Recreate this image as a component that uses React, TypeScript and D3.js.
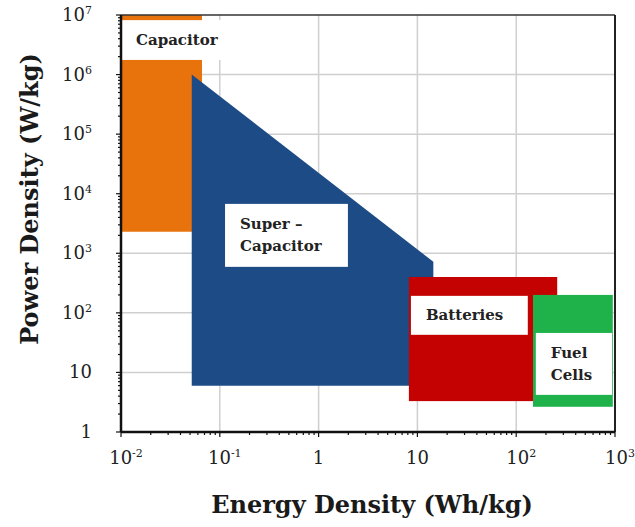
import { useEffect, useRef } from 'react';
import * as d3 from 'd3';

// axis decades (log scale)
const energyDecades = [1e-2, 1e-1, 1, 10, 100, 1000];
const powerDecades = [1, 10, 100, 1e3, 1e4, 1e5, 1e6, 1e7];
const energyTickLabels = [['10', '-2'], ['10', '-1'], ['1', ''], ['10', ''], ['10', '2'], ['10', '3']];
const powerTickLabels = [['1', ''], ['10', ''], ['10', '2'], ['10', '3'], ['10', '4'], ['10', '5'], ['10', '6'], ['10', '7']];

// regions: energy (Wh/kg) x power (W/kg)
const capacitorRange = { x: [0.01, 0.066], y: [2300, 1e7] };
const superCapPolygon = [[0.052, 1e6], [14.5, 720], [14.5, 6], [0.052, 6]];
const batteriesRange = { x: [8.2, 260], y: [3.3, 400] };
const fuelCellsRange = { x: [148, 950], y: [2.65, 200] };

// label boxes (in data units) and their text lines
const labelBoxes = [
  { lines: ['Capacitor'], x: [0.01, 0.18], y: [1.76e6, 8.2e6] },
  { lines: ['Super –', 'Capacitor'], x: [0.113, 1.98], y: [592, 6750] },
  { lines: ['Batteries'], x: [8.6, 131], y: [42.8, 193] },
  { lines: ['Fuel', 'Cells'], x: [158, 933], y: [4.2, 46] },
];

const width = 635;
const height = 527;
const margin = { top: 15, right: 20, bottom: 95, left: 121 };
const serif = '"DejaVu Serif", serif';

const App = () => {
  const svgRef = useRef(null);

  useEffect(() => {
    const svg = d3.select(svgRef.current);
    svg.selectAll('*').remove();

    const innerWidth = width - margin.left - margin.right;
    const innerHeight = height - margin.top - margin.bottom;

    const x = d3.scaleLog().domain([1e-2, 1e3]).range([0, innerWidth]);
    const y = d3.scaleLog().domain([1, 1e7]).range([innerHeight, 0]);

    svg.append('rect').attr('width', width).attr('height', height).attr('fill', '#fff');

    const g = svg.append('g').attr('transform', `translate(${margin.left},${margin.top})`);

    // grid
    g.selectAll('.vgrid')
      .data(energyDecades.slice(1, -1))
      .enter()
      .append('line')
      .attr('x1', d => x(d)).attr('x2', d => x(d))
      .attr('y1', 0).attr('y2', innerHeight)
      .attr('stroke', '#cfcfcf').attr('stroke-width', 1.5);

    g.selectAll('.hgrid')
      .data(powerDecades.slice(1, -1))
      .enter()
      .append('line')
      .attr('x1', 0).attr('x2', innerWidth)
      .attr('y1', d => y(d)).attr('y2', d => y(d))
      .attr('stroke', '#cfcfcf').attr('stroke-width', 1.5);

    const rect = (r, color) =>
      g.append('rect')
        .attr('x', x(r.x[0]))
        .attr('y', y(r.y[1]))
        .attr('width', x(r.x[1]) - x(r.x[0]))
        .attr('height', y(r.y[0]) - y(r.y[1]))
        .attr('fill', color);

    rect(capacitorRange, '#e8720c');

    const line = d3.line().x(d => x(d[0])).y(d => y(d[1]));
    g.append('path')
      .attr('d', line(superCapPolygon) + 'Z')
      .attr('fill', '#1d4b86');

    rect(batteriesRange, '#c40202');
    rect(fuelCellsRange, '#1fb24b');

    // label boxes
    labelBoxes.forEach(b => {
      const bx = x(b.x[0]);
      const by = y(b.y[1]);
      const bw = x(b.x[1]) - bx;
      const bh = y(b.y[0]) - by;
      g.append('rect')
        .attr('x', bx).attr('y', by)
        .attr('width', bw).attr('height', bh)
        .attr('fill', '#fff');
      const lh = 22;
      const startY = by + bh / 2 - ((b.lines.length - 1) * lh) / 2 + 5;
      b.lines.forEach((t, i) => {
        g.append('text')
          .attr('x', bx + 15)
          .attr('y', startY + i * lh)
          .attr('font-family', serif)
          .attr('font-weight', 'bold')
          .attr('font-size', 15)
          .attr('fill', '#222')
          .text(t);
      });
    });

    // frame
    g.append('line').attr('x1', 0).attr('x2', innerWidth).attr('y1', 0).attr('y2', 0)
      .attr('stroke', '#333').attr('stroke-width', 1.5);
    g.append('line').attr('x1', innerWidth).attr('x2', innerWidth).attr('y1', 0).attr('y2', innerHeight)
      .attr('stroke', '#222').attr('stroke-width', 2);
    g.append('line').attr('x1', 0).attr('x2', 0).attr('y1', 0).attr('y2', innerHeight)
      .attr('stroke', '#111').attr('stroke-width', 2.5);
    g.append('line').attr('x1', 0).attr('x2', innerWidth).attr('y1', innerHeight).attr('y2', innerHeight)
      .attr('stroke', '#111').attr('stroke-width', 2.5);

    // ticks (major + minor)
    const minorX = energyDecades.slice(0, -1).flatMap(d => d3.range(2, 10).map(k => d * k));
    const minorY = powerDecades.slice(0, -1).flatMap(d => d3.range(2, 10).map(k => d * k));

    g.selectAll('.xtick')
      .data([...energyDecades.map(v => ({ v, len: 5 })), ...minorX.map(v => ({ v, len: 3 }))])
      .enter()
      .append('line')
      .attr('x1', d => x(d.v)).attr('x2', d => x(d.v))
      .attr('y1', innerHeight).attr('y2', d => innerHeight + d.len)
      .attr('stroke', '#111').attr('stroke-width', 1.2);

    g.selectAll('.ytick')
      .data([...powerDecades.map(v => ({ v, len: 5 })), ...minorY.map(v => ({ v, len: 3 }))])
      .enter()
      .append('line')
      .attr('x1', d => -d.len).attr('x2', 0)
      .attr('y1', d => y(d.v)).attr('y2', d => y(d.v))
      .attr('stroke', '#111').attr('stroke-width', 1.2);

    // tick labels
    energyDecades.forEach((d, i) => {
      const [base, sup] = energyTickLabels[i];
      const t = g.append('text')
        .attr('x', x(d) + (sup ? 5 : 0))
        .attr('y', innerHeight + 32)
        .attr('text-anchor', 'middle')
        .attr('font-family', serif)
        .attr('font-size', 18)
        .attr('fill', '#222');
      t.append('tspan').text(base);
      if (sup) t.append('tspan').attr('font-size', 11).attr('dy', -7).text(sup);
    });

    powerDecades.forEach((d, i) => {
      const [base, sup] = powerTickLabels[i];
      const t = g.append('text')
        .attr('x', -29)
        .attr('y', y(d) + 6)
        .attr('text-anchor', 'end')
        .attr('font-family', serif)
        .attr('font-size', 18)
        .attr('fill', '#222');
      t.append('tspan').text(base);
      if (sup) t.append('tspan').attr('font-size', 11).attr('dy', -7).text(sup);
    });

    // axis titles
    svg.append('text')
      .attr('x', 372)
      .attr('y', 513)
      .attr('text-anchor', 'middle')
      .attr('font-family', serif)
      .attr('font-weight', 'bold')
      .attr('font-size', 24)
      .attr('fill', '#1a1a1a')
      .text('Energy Density (Wh/kg)');

    svg.append('text')
      .attr('transform', 'translate(38,199) rotate(-90)')
      .attr('text-anchor', 'middle')
      .attr('font-family', serif)
      .attr('font-weight', 'bold')
      .attr('font-size', 24)
      .attr('fill', '#1a1a1a')
      .text('Power Density (W/kg)');
  }, []);

  return (
    <svg
      ref={svgRef}
      width={width}
      height={height}
      style={{ position: 'absolute', left: 0, top: 0 }}
    ></svg>
  );
};

export default App;
